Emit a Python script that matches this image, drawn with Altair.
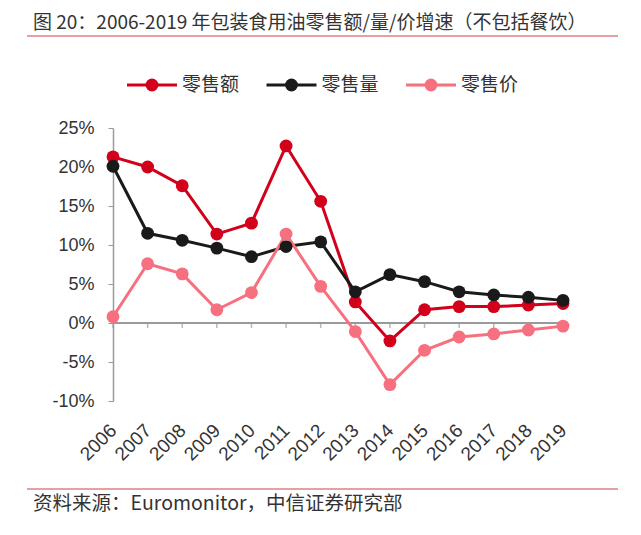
import altair as alt
import pandas as pd

# ---- data ----
years = [str(y) for y in range(2006, 2020)]
sales_value = [21.3, 20.0, 17.6, 11.4, 12.8, 22.7, 15.6, 2.7, -2.3, 1.7, 2.1, 2.1, 2.3, 2.5]
sales_volume = [20.1, 11.5, 10.6, 9.6, 8.5, 9.8, 10.4, 4.0, 6.2, 5.3, 4.0, 3.6, 3.3, 2.9]
sales_price = [0.8, 7.6, 6.3, 1.7, 3.9, 11.4, 4.7, -1.1, -7.9, -3.5, -1.8, -1.4, -0.9, -0.4]
series_names = ["零售额", "零售量", "零售价"]
y_ticks = [-10, -5, 0, 5, 10, 15, 20, 25]

title_text = "图 20：2006-2019 年包装食用油零售额/量/价增速（不包括餐饮）"
source_text = "资料来源：Euromonitor，中信证券研究部"

# ---- styles ----
colors = ["#d2001a", "#1a1a1a", "#f6707f"]
CJK = "Noto Sans CJK SC"
LAT = "Liberation Sans"
AXIS_GRAY = "#9a9a9a"
W, H = 450, 273

rows = []
for name, vals in zip(series_names, [sales_value, sales_volume, sales_price]):
    for yr, v in zip(years, vals):
        rows.append({"year": yr, "value": v, "series": name, "order": series_names.index(name)})
df = pd.DataFrame(rows)
year_df = pd.DataFrame({"year": years})

x_axis = alt.Axis(
    domain=False, ticks=False, grid=False, title=None,
    labelAngle=-45, labelAlign="right", labelBaseline="middle",
    labelFont=LAT, labelFontSize=19, labelColor="#333333", labelPadding=26,
)
x_enc = alt.X("year:O", scale=alt.Scale(type="point", padding=0), axis=x_axis)

y_scale = alt.Scale(domain=[-10, 25], nice=False, zero=False)
y_axis = alt.Axis(
    values=y_ticks, labelExpr="datum.value + '%'", grid=False, title=None,
    domainColor=AXIS_GRAY, tickColor=AXIS_GRAY, tickSize=5, domainWidth=1.5,
    labelFont=LAT, labelFontSize=18, labelColor="#333333", labelPadding=14,
)
y_enc = alt.Y("value:Q", scale=y_scale, axis=y_axis)

color_scale = alt.Scale(domain=series_names, range=colors)

# zero line with downward ticks (category axis crossing at 0)
zero_line = alt.Chart(year_df).mark_rule(color=AXIS_GRAY, strokeWidth=1.5).encode(
    y=alt.Y(datum=0, scale=y_scale, axis=y_axis), x=alt.value(0), x2=alt.value(W)
)
zero_ticks = alt.Chart(year_df).mark_tick(
    orient="vertical", size=5, thickness=1.5, yOffset=2.5, color=AXIS_GRAY
).encode(x=x_enc, y=alt.Y(datum=0, scale=y_scale, axis=y_axis))

lines = alt.Chart(df).mark_line(strokeWidth=3).encode(
    x=x_enc, y=y_enc,
    stroke=alt.Stroke("series:N", scale=color_scale, legend=None),
    detail="series:N",
    order="order:Q",
)

points = alt.Chart(df).mark_point(filled=True, size=165, opacity=1).encode(
    x=x_enc, y=y_enc,
    fill=alt.Fill("series:N", scale=color_scale, legend=None),
    order="order:Q",
)

# legend (manual, horizontal, above the plot)
legend_layers = []
for i, (name, col) in enumerate(zip(series_names, colors)):
    lx = 14 + i * 139.5
    one = pd.DataFrame({"name": [name]})
    legend_layers.append(
        alt.Chart(one).mark_rule(strokeWidth=3, color=col).encode(
            x=alt.value(lx), x2=alt.value(lx + 50), y=alt.value(-43)))
    legend_layers.append(
        alt.Chart(one).mark_point(filled=True, size=165, opacity=1, color=col).encode(
            x=alt.value(lx + 25), y=alt.value(-43)))
    legend_layers.append(
        alt.Chart(one).mark_text(align="left", baseline="middle", font=CJK,
                                 fontSize=19, color="#333333").encode(
            x=alt.value(lx + 55), y=alt.value(-43), text="name:N"))

title_mark = alt.Chart(pd.DataFrame({"t": [title_text]})).mark_text(
    align="left", baseline="middle", font=CJK, fontSize=19, color="#333333"
).encode(x=alt.value(-80), y=alt.value(-105), text="t:N")

title_rule = alt.Chart(pd.DataFrame({"a": [0]})).mark_rule(
    color="#e6a0a4", strokeWidth=2
).encode(x=alt.value(-86), x2=alt.value(505), y=alt.value(-92))

source_rule = alt.Chart(pd.DataFrame({"a": [0]})).mark_rule(
    color="#e6a0a4", strokeWidth=2
).encode(x=alt.value(-86), x2=alt.value(505), y=alt.value(361))

source_mark = alt.Chart(pd.DataFrame({"t": [source_text]})).mark_text(
    align="left", baseline="middle", font=CJK, fontSize=19.5, color="#333333"
).encode(x=alt.value(-80), y=alt.value(376), text="t:N")

chart = alt.layer(
    zero_line, zero_ticks, lines, points,
    title_mark, title_rule, source_rule, source_mark, *legend_layers
).properties(
    width=W, height=H,
    autosize=alt.AutoSizeParams(type="none"),
    padding={"left": 105, "top": 120, "right": 70, "bottom": 126},
).configure_view(stroke=None)

chart.save("out.html", embed_options={"renderer": "svg", "actions": False})
